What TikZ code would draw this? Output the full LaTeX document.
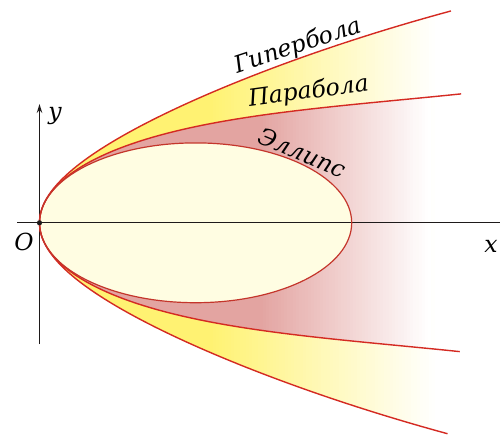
\documentclass[tikz,border=0pt]{standalone}
\usepackage{fontspec}
\newfontfamily\lblfont{DejaVu Serif}
\usetikzlibrary{arrows.meta}
\definecolor{yellowc}{HTML}{FFF272}
\definecolor{pinkc}{HTML}{E3A4A1}
\definecolor{creamc}{HTML}{FFFDE2}
\definecolor{curvec}{HTML}{D42A22}
\definecolor{ellc}{HTML}{C4352B}
\definecolor{axisc}{HTML}{1E1A1A}
\begin{document}
\begin{tikzpicture}[x=1pt,y=-1pt,
  curve/.style={draw=curvec, line width=1.4pt},
  ellcurve/.style={draw=ellc, line width=1.2pt},
  axis/.style={draw=axisc, line width=1.2pt},
  lbl/.style={font=\lblfont\fontsize{23.5}{26}\selectfont\itshape, anchor=base, inner sep=0pt},
  ]
\useasboundingbox (0,0) rectangle (500,440);
\coordinate (O) at (39.5,222.8);
\coordinate (C) at (195.6,222.8);
% region inside the hyperbola
\begin{scope}
\clip plot[domain=-2.02:2.03, samples=121, variable=\s] ({39.5+100*(\s)*(\s)}, {222.8-100*(\s)*sqrt(0.82+0.1182*(\s)*(\s)-0.01274*(\s)*(\s)*(\s)*(\s))}) -- cycle;
\fill[yellowc] (30,0) rectangle (211,440);
\foreach \i in {0,...,75} {
  \pgfmathsetmacro\xa{210+\i*3}
  \pgfmathtruncatemacro\p{100*(1-\i/75)}
  \fill[yellowc!\p!white] (\xa,0) rectangle ({\xa+3.4},440);
}
\end{scope}
% region inside the parabola
\begin{scope}
\clip plot[domain=-2.05:2.054, samples=121, variable=\s] ({39.5+100*(\s)*(\s)}, {222.8-100*(\s)*sqrt(0.82-0.1719*(\s)*(\s)+0.01683*(\s)*(\s)*(\s)*(\s))}) -- cycle;
\fill[pinkc] (30,0) rectangle (261,440);
\foreach \i in {0,...,56} {
  \pgfmathsetmacro\xa{260+\i*3}
  \pgfmathtruncatemacro\p{100*(1-\i/56)}
  \fill[pinkc!\p!white] (\xa,0) rectangle ({\xa+3.4},440);
}
\end{scope}
% ellipse interior
\fill[creamc] (C) ellipse [x radius=156.1, y radius=79.9];
% axes
\coordinate (xl) at (17,222.8);
\coordinate (xr) at (500,222.8);
\coordinate (yb) at (39.5,344);
\coordinate (yt) at (39.5,104);
\draw[axis] (xl) -- (xr);
\draw[axis, -{Stealth[length=9pt,width=5.5pt]}] (yb) -- (yt);
% curves
\draw[curve] plot[domain=-2.02:2.03, samples=121, variable=\s] ({39.5+100*(\s)*(\s)}, {222.8-100*(\s)*sqrt(0.82+0.1182*(\s)*(\s)-0.01274*(\s)*(\s)*(\s)*(\s))});
\draw[curve] plot[domain=-2.05:2.054, samples=121, variable=\s] ({39.5+100*(\s)*(\s)}, {222.8-100*(\s)*sqrt(0.82-0.1719*(\s)*(\s)+0.01683*(\s)*(\s)*(\s)*(\s))});
\draw[ellcurve] (C) ellipse [x radius=156.1, y radius=79.9];
\fill[axisc] (O) circle (2.6);
% labels
\node[lbl, rotate=18.3] (hyp) at (300,52.5) {Гипербола};
\node[lbl, rotate=7.7] (par) at (309.5,98.5) {Парабола};
\node[lbl, rotate=-22.6] (ell) at (299,160.5) {Эллипс};
\node[lbl] (ylab) at (55,119.5) {y};
\node[lbl] (olab) at (24,250) {O};
\node[lbl] (xlab) at (491,252) {x};
\end{tikzpicture}
\end{document}
